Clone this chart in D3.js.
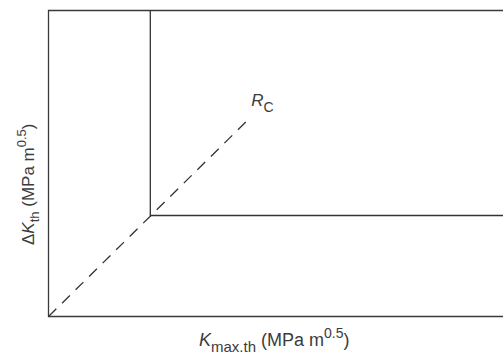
<!DOCTYPE html>
<html>
<meta charset="utf-8">
<style>
  body { margin: 0; background: #fff; }
  .frame { fill: none; stroke: #3a3a3a; stroke-width: 1.3; }
  .curve { fill: none; stroke: #333; stroke-width: 1.3; }
  .rc { fill: none; stroke: #333; stroke-width: 1.3; stroke-dasharray: 11, 8; }
  text { font-family: "Liberation Sans", Arial, sans-serif; fill: #3c3c3c; }
</style>
<body>
<script src="https://d3js.org/d3.v7.min.js"></script>
<script>
  let width = 503,
    height = 358;

  // threshold curve (L shape): Kmax,th and Delta K,th
  let curveKmax = [2.24, 2.24, 11];
  let curveDK = [10, 3.3, 3.3];

  // critical R line from origin
  let rcKmax = [0, 4.44];
  let rcDK = [0, 6.5];

  let xDomain = [0, 10];
  let yDomain = [0, 10];

  let x = d3.scaleLinear().domain(xDomain).range([48.5, 503]);
  let y = d3.scaleLinear().domain(yDomain).range([316.5, 10.5]);

  let svg = d3.select("body").append("svg")
    .attr("width", width)
    .attr("height", height);

  // plot frame (right side runs off the picture)
  svg.append("path")
    .attr("class", "frame")
    .attr("d", d3.line()([
      [x(11), y(yDomain[1])],
      [x(xDomain[0]), y(yDomain[1])],
      [x(xDomain[0]), y(yDomain[0])],
      [x(11), y(yDomain[0])]
    ]));

  let line = d3.line()
    .x(d => x(d[0]))
    .y(d => y(d[1]));

  svg.append("path")
    .attr("class", "curve")
    .attr("d", line(d3.zip(curveKmax, curveDK)));

  svg.append("path")
    .attr("class", "rc")
    .attr("d", line(d3.zip(rcKmax, rcDK)));

  // R_C label
  let rc = svg.append("text")
    .attr("x", x(rcKmax[1]) + 1)
    .attr("y", y(rcDK[1]) - 12)
    .attr("font-size", 17);
  rc.append("tspan").attr("font-style", "italic").text("R");
  rc.append("tspan").attr("font-size", 14).attr("dy", 6).text("C");

  // x axis title
  let xt = svg.append("text")
    .attr("x", 199)
    .attr("y", 346)
    .attr("font-size", 18);
  xt.append("tspan").attr("font-style", "italic").text("K");
  xt.append("tspan").attr("font-size", 15).attr("dy", 6).text("max.th");
  xt.append("tspan").attr("dy", -6).text(" (MPa m");
  xt.append("tspan").attr("font-size", 14).attr("dy", -8).text("0.5");
  xt.append("tspan").attr("dy", 8).text(")");

  // y axis title
  let yt = svg.append("text")
    .attr("transform", "translate(34,245) rotate(-90)")
    .attr("font-size", 17);
  yt.append("tspan").text("Δ");
  yt.append("tspan").attr("font-style", "italic").text("K");
  yt.append("tspan").attr("font-size", 13).attr("dy", 5).text("th");
  yt.append("tspan").attr("dy", -5).text(" (MPa m");
  yt.append("tspan").attr("font-size", 13).attr("dy", -8).text("0.5");
  yt.append("tspan").attr("dy", 8).text(")");
</script>
</body>
</html>
